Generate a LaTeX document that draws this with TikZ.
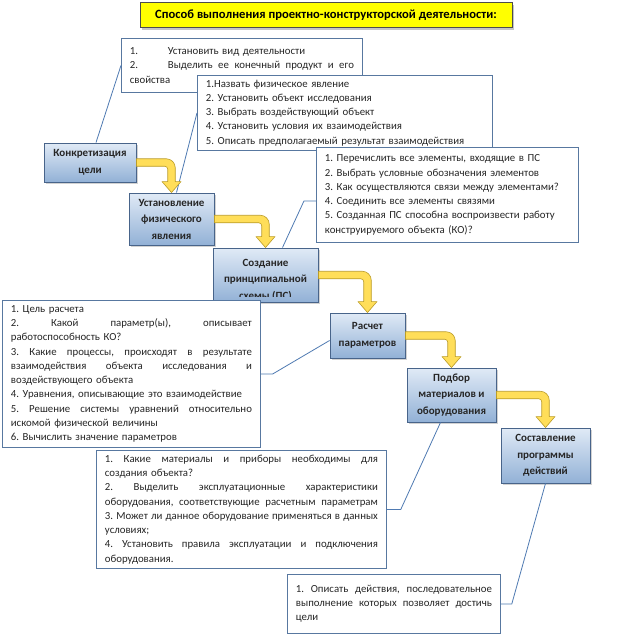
\documentclass[tikz,border=0pt]{standalone}
\usepackage{fontspec}
\setmainfont{Carlito}
\usetikzlibrary{positioning,calc,shadows}

\definecolor{boxline}{RGB}{88,120,160}
\definecolor{leadline}{RGB}{79,122,178}
\definecolor{proctop}{RGB}{224,234,246}
\definecolor{procbot}{RGB}{146,177,214}
\definecolor{procline}{RGB}{72,100,138}
\definecolor{arrowfill}{RGB}{255,222,89}
\definecolor{arrowline}{RGB}{186,156,40}
\definecolor{titlefill}{RGB}{255,255,0}

\newlength{\jw}
\newcommand{\jl}[1]{\leavevmode{\spaceskip=0.23em plus 1fil\relax\hbox to \jw{#1}}}
\newcommand{\nb}[1]{\makebox[38pt][l]{#1}}

\tikzset{
    textbox/.style={draw=boxline, line width=0.8pt, fill=white, anchor=north west,
        inner xsep=8.5pt, inner ysep=0pt, align=left, text=black!85,
        text width=#1, execute at begin node={\setlength{\jw}{#1}},
        font=\fontsize{10.8}{14.3}\selectfont\frenchspacing},
    proc/.style={draw=procline, line width=0.9pt, top color=proctop, bottom color=procbot,
        drop shadow={shadow xshift=1.5pt, shadow yshift=-1.5pt, opacity=0.35},
        align=center, text=black!85, inner sep=1pt,
        font=\fontsize{11}{16.5}\selectfont\bfseries},
    proctext/.style={align=center, text=black!85, inner sep=0pt,
        font=\fontsize{11}{16.5}\selectfont\bfseries},
    titlebox/.style={draw=black!70, fill=titlefill, line width=0.6pt,
        minimum width=372pt, minimum height=25pt,
        font=\fontsize{12.6}{14}\selectfont\bfseries,
        drop shadow={shadow xshift=2pt, shadow yshift=-2.5pt, opacity=0.45}},
    leader/.style={draw=leadline, line width=0.8pt},
    fatarrow/.style={fill=arrowfill, draw=arrowline, line width=0.6pt, line join=round}
}

\newcommand{\fatarrow}[2]{%
    \filldraw[fatarrow] let \p1=(#1.east), \p2=(#2.north) in
        (\x1,\y1+3.75pt) [rounded corners=9pt] -- (\x2+3.75pt,\y1+3.75pt) [sharp corners]
        -- (\x2+3.75pt,\y2+11pt) -- (\x2+9.5pt,\y2+11pt) -- (\x2,\y2)
        -- (\x2-9.5pt,\y2+11pt) -- (\x2-3.75pt,\y2+11pt) [rounded corners=3pt]
        -- (\x2-3.75pt,\y1-3.75pt) [sharp corners] -- (\x1,\y1-3.75pt) -- cycle;}

\begin{document}
\begin{tikzpicture}[x=1pt, y=-1pt]
    \fill[white] (0,0) rectangle (621,638);
    \useasboundingbox (0,0) rectangle (621,638);

    \node[titlebox] (title) at (326,15) {Способ выполнения проектно-конструкторской деятельности:};

    \node[textbox=224pt, minimum height=54pt] (goals) at (121,38)
        {\nb{1.}Установить вид деятельности\\
         \jl{\nb{2.}Выделить ее конечный продукт и его}\\
         свойства};
    \node[textbox=278pt, minimum height=75pt] (phys) at (197,75)
        {1.Назвать физическое явление\\
         2. Установить объект исследования\\
         3. Выбрать воздействующий объект\\
         4. Установить условия их взаимодействия\\
         5. Описать предполагаемый результат взаимодействия};
    \node[textbox=245pt, minimum height=95pt] (elem) at (316,147)
        {1. Перечислить все элементы, входящие в ПС\\
         2. Выбрать условные обозначения элементов\\
         3. Как осуществляются связи между элементами?\\
         4. Соединить все элементы связями\\
         5. Созданная ПС способна воспроизвести работу\\
         конструируемого объекта (КО)?};

    \node[proc, minimum width=92pt, minimum height=39pt] (konk) at (90,162.5)
        {Конкретизация\\цели};
    \node[proc, minimum width=85pt, minimum height=52pt] (ustan) at (171.5,219)
        {Установление\\физического\\явления};
    \node[proc, minimum width=105pt, minimum height=54pt,
        path picture={
            \clip ([yshift=6pt]path picture bounding box.south west) rectangle (path picture bounding box.north east);
            \node[proctext] (shematext) at ([yshift=-5pt]path picture bounding box.center)
                {Создание\\принципиальной\\схемы (ПС)};
        }] (shema) at (265.5,275) {};

    \node[textbox=241pt, minimum height=147pt] (calcq) at (2,300)
        {1. Цель расчета\\
         \jl{2. Какой параметр(ы), описывает}\\
         работоспособность КО?\\
         \jl{3. Какие процессы, происходят в результате}\\
         \jl{взаимодействия объекта исследования и}\\
         воздействующего объекта\\
         4. Уравнения, описывающие это взаимодействие\\
         \jl{5. Решение системы уравнений относительно}\\
         искомой физической величины\\
         6. Вычислить значение параметров};

    \node[proc, minimum width=75pt, minimum height=45pt] (rasch) at (367.5,335.5)
        {Расчет\\параметров};
    \node[proc, minimum width=89pt, minimum height=54pt] (podb) at (451.5,395)
        {Подбор\\материалов и\\оборудования};
    \node[proc, minimum width=89pt, minimum height=55pt] (sost) at (545.5,455.5)
        {Составление\\программы\\действий};

    \node[textbox=273pt, minimum height=118pt] (mat) at (96,450)
        {\jl{1. Какие материалы и приборы необходимы для}\\
         создания объекта?\\
         \jl{2. Выделить эксплуатационные характеристики}\\
         \jl{оборудования, соответствующие расчетным параметрам}\\
         \jl{3. Может ли данное оборудование применяться в данных}\\
         условиях;\\
         \jl{4. Установить правила эксплуатации и подключения}\\
         оборудования.};
    \node[textbox=196pt, minimum height=59pt] (act) at (287,574)
        {\jl{1. Описать действия, последовательное}\\
         \jl{выполнение которых позволяет достичь}\\
         цели};

    \draw[leader] ([xshift=6pt]konk.north) -- (goals.west);
    \draw[leader] ([xshift=5pt]ustan.north) -- (phys.west);
    \draw[leader] ([xshift=17pt]shema.north) -- ([xshift=-12pt,yshift=-6pt]elem.west) -- ([yshift=-6pt]elem.west);
    \draw[leader] (calcq.east) -- ++(12,0) -- ([yshift=-5pt]rasch.west);
    \draw[leader] (mat.east) -- ++(14,0) -- ([xshift=-11pt]podb.south);
    \draw[leader] (act.east) -- ++(11,0) -- (sost.south);

    \fatarrow{konk}{ustan}
    \fatarrow{ustan}{shema}
    \fatarrow{shema}{rasch}
    \fatarrow{rasch}{podb}
    \fatarrow{podb}{sost}
\end{tikzpicture}
\end{document}
